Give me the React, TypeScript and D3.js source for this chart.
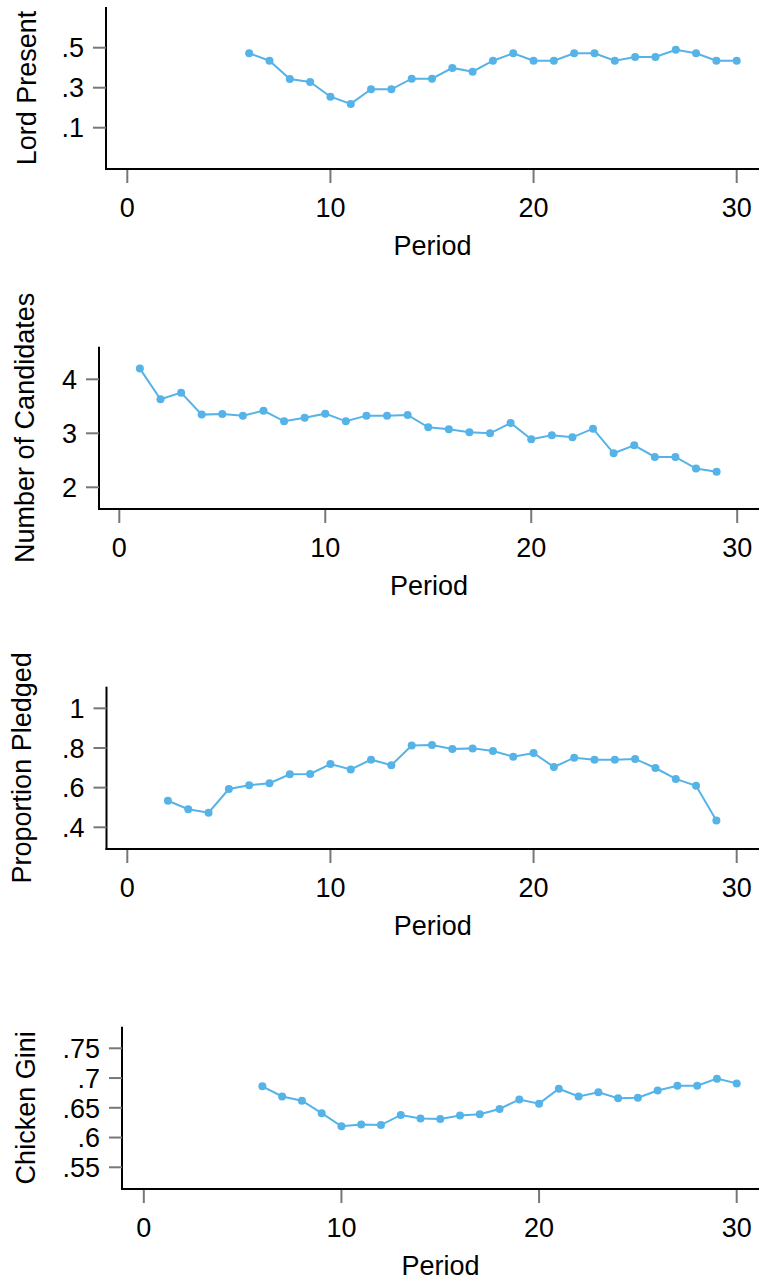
import React from "react";
import * as d3 from "d3";

const lordPeriods = [6, 7, 8, 9, 10, 11, 12, 13, 14, 15, 16, 17, 18, 19, 20, 21, 22, 23, 24, 25, 26, 27, 28, 29, 30];
const lordPresent = [0.472, 0.435, 0.343, 0.329, 0.255, 0.219, 0.292, 0.292, 0.345, 0.345, 0.399, 0.38, 0.435, 0.472, 0.435, 0.435, 0.472, 0.472, 0.435, 0.454, 0.454, 0.49, 0.472, 0.435, 0.435];

const candPeriods = [1, 2, 3, 4, 5, 6, 7, 8, 9, 10, 11, 12, 13, 14, 15, 16, 17, 18, 19, 20, 21, 22, 23, 24, 25, 26, 27, 28, 29];
const candidates = [4.198, 3.63, 3.753, 3.346, 3.358, 3.327, 3.42, 3.222, 3.29, 3.364, 3.222, 3.327, 3.327, 3.34, 3.111, 3.074, 3.019, 3.0, 3.191, 2.889, 2.963, 2.926, 3.086, 2.63, 2.778, 2.562, 2.562, 2.346, 2.29];

const pledgePeriods = [2, 3, 4, 5, 6, 7, 8, 9, 10, 11, 12, 13, 14, 15, 16, 17, 18, 19, 20, 21, 22, 23, 24, 25, 26, 27, 28, 29];
const pledged = [0.534, 0.491, 0.474, 0.593, 0.612, 0.622, 0.667, 0.669, 0.719, 0.692, 0.741, 0.713, 0.812, 0.815, 0.795, 0.798, 0.785, 0.756, 0.775, 0.704, 0.751, 0.741, 0.741, 0.745, 0.699, 0.644, 0.609, 0.434];

const giniPeriods = [6, 7, 8, 9, 10, 11, 12, 13, 14, 15, 16, 17, 18, 19, 20, 21, 22, 23, 24, 25, 26, 27, 28, 29, 30];
const gini = [0.686, 0.669, 0.662, 0.641, 0.619, 0.622, 0.621, 0.638, 0.632, 0.631, 0.637, 0.639, 0.648, 0.664, 0.657, 0.682, 0.669, 0.676, 0.666, 0.667, 0.679, 0.687, 0.687, 0.699, 0.691];

const xTicks = [0, 10, 20, 30];
const lordTicks = [0.1, 0.3, 0.5];
const candTicks = [2, 3, 4];
const pledgeTicks = [0.4, 0.6, 0.8, 1];
const giniTicks = [0.55, 0.6, 0.65, 0.7, 0.75];

const fmtDec = (v: number) => {
  const s = String(+v.toFixed(2));
  return s.startsWith("0.") ? s.slice(1) : s;
};

type Panel = {
  title: string;
  xs: number[];
  ys: number[];
  yTicks: number[];
  yDomain: [number, number];
  axisX: number;
  top: number;
  bottom: number;
  x0: number;
  x30: number;
  titleX: number;
};

const panels: Panel[] = [
  { title: "Lord Present", xs: lordPeriods, ys: lordPresent, yTicks: lordTicks, yDomain: [-0.1065, 0.7035], axisX: 106, top: 7, bottom: 169, x0: 127.3, x30: 736.7, titleX: 36 },
  { title: "Number of Candidates", xs: candPeriods, ys: candidates, yTicks: candTicks, yDomain: [1.598, 4.604], axisX: 99, top: 346.7, bottom: 509, x0: 119.3, x30: 737.2, titleX: 34 },
  { title: "Proportion Pledged", xs: pledgePeriods, ys: pledged, yTicks: pledgeTicks, yDomain: [0.2906, 1.109], axisX: 106.5, top: 686.7, bottom: 849, x0: 127.3, x30: 736.7, titleX: 31 },
  { title: "Chicken Gini", xs: giniPeriods, ys: gini, yTicks: giniTicks, yDomain: [0.5135, 0.7863], axisX: 122, top: 1026.7, bottom: 1189, x0: 143.8, x30: 736.7, titleX: 35 },
];

const COLOR = "#55b3e8";
const FONT = "'Liberation Sans', Arial, Helvetica, sans-serif";
const FS = 27;

function PanelView({ p }: { p: Panel }) {
  const x = d3.scaleLinear().domain([0, 30]).range([p.x0, p.x30]);
  const y = d3.scaleLinear().domain(p.yDomain).range([p.bottom, p.top]);
  const pts = p.xs.map((v, i) => [v, p.ys[i]] as [number, number]);
  const line = d3.line<[number, number]>().x((d) => x(d[0])).y((d) => y(d[1]));
  const midY = (p.top + p.bottom) / 2;
  return (
    <g>
      <line x1={p.axisX} x2={p.axisX} y1={p.top} y2={p.bottom + 1} stroke="#000" strokeWidth={2} />
      {p.yTicks.map((t) => (
        <g key={"y" + t}>
          <line x1={p.axisX - 13} x2={p.axisX} y1={y(t)} y2={y(t)} stroke="#777" strokeWidth={2} />
          <text x={p.axisX - 22} y={y(t)} dy="0.36em" textAnchor="end" fontSize={FS} fontFamily={FONT} fill="#000">
            {fmtDec(t)}
          </text>
        </g>
      ))}
      <line x1={p.axisX - 1} x2={759} y1={p.bottom} y2={p.bottom} stroke="#000" strokeWidth={2} />
      {xTicks.map((t) => (
        <g key={"x" + t}>
          <line x1={x(t)} x2={x(t)} y1={p.bottom + 1} y2={p.bottom + 14} stroke="#777" strokeWidth={2} />
          <text x={x(t)} y={p.bottom + 48} textAnchor="middle" fontSize={FS} fontFamily={FONT} fill="#000">
            {t}
          </text>
        </g>
      ))}
      <text x={(p.axisX + 759) / 2} y={p.bottom + 86} textAnchor="middle" fontSize={FS} fontFamily={FONT} fill="#000">
        Period
      </text>
      <text transform={`translate(${p.titleX},${midY}) rotate(-90)`} textAnchor="middle" fontSize={FS} fontFamily={FONT} fill="#000">
        {p.title}
      </text>
      <path d={line(pts) || ""} fill="none" stroke={COLOR} strokeWidth={2} />
      {pts.map((d, i) => (
        <circle key={i} cx={x(d[0])} cy={y(d[1])} r={4} fill={COLOR} />
      ))}
    </g>
  );
}

export default function App() {
  return (
    <svg width={759} height={1283} style={{ position: "absolute", left: 0, top: 0, background: "#fff" }}>
      <rect width={759} height={1283} fill="#fff" />
      {panels.map((p) => (
        <PanelView key={p.title} p={p} />
      ))}
    </svg>
  );
}
